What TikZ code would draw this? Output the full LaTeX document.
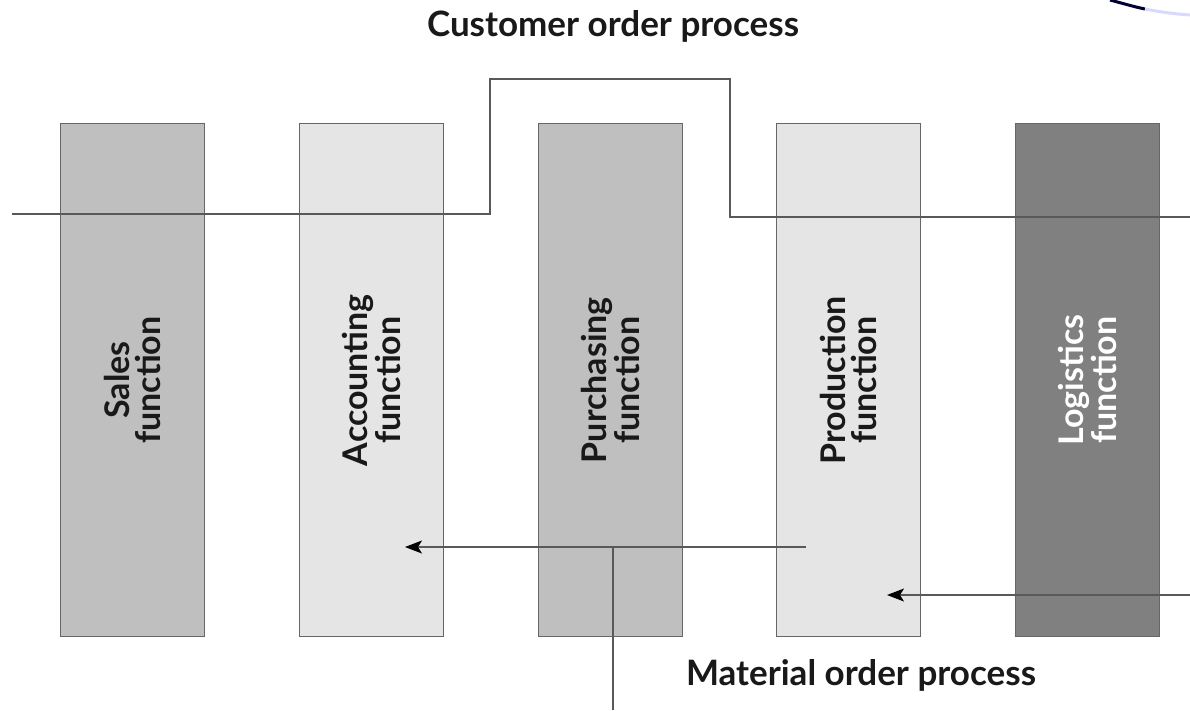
\documentclass[tikz,border=0pt]{standalone}
\usepackage{fontspec}
\setmainfont{Lato}
\usetikzlibrary{arrows.meta}
\begin{document}
\begin{tikzpicture}[x=1pt,y=-1pt,
  func/.style={draw=black!60, line width=1.2pt, minimum width=144pt, minimum height=513pt, inner sep=0pt, anchor=north west},
  lbl/.style={rotate=90, align=center, font=\bfseries\fontsize{34}{31}\selectfont, text=black!90},
  flow/.style={draw=black!65, line width=1.2pt},
  arr/.style={flow, -{Stealth[length=17pt,width=13pt,inset=4pt,black]}},
  title/.style={font=\bfseries\fontsize{35}{40}\selectfont, text=black!90, anchor=base, inner sep=0pt}]
\useasboundingbox (0,0) rectangle (1190,710);
\fill[white] (0,0) rectangle (1190,710);
% top-right fragment
\draw[draw=black!80!blue, line width=3pt] (1110,0) .. controls (1125,4) and (1135,7) .. (1145,9);
\draw[draw=blue!15, line width=3pt] (1145,9) .. controls (1160,12) and (1175,14) .. (1190,15);
% function boxes
\node[func, fill=black!25] (sales) at (60,123) {};
\node[func, fill=black!10] (acc) at (299,123) {};
\node[func, fill=black!25] (pur) at (538,123) {};
\node[func, fill=black!10] (prod) at (776,123) {};
\node[func, fill=black!50] (log) at (1015,123) {};
\node[lbl] at (sales.center) {Sales\\function};
\node[lbl] at (acc.center) {Accounting\\function};
\node[lbl] at (pur.center) {Purchasing\\function};
\node[lbl] at (prod.center) {Production\\function};
\node[lbl, text=white] at (log.center) {Logistics\\function};
% titles
\node[title] (cop) at (613,36) {Customer order process};
\node[title] (mop) at (861,685) {Material order process};
% customer order process line
\coordinate (c0) at (12,214);
\coordinate (c1) at (490,214);
\coordinate (c2) at (490,79);
\coordinate (c3) at (730,79);
\coordinate (c4) at (730,217);
\coordinate (c5) at (1190,217);
\draw[flow] (c0) -- (c1) -- (c2) -- (c3) -- (c4) -- (c5);
% material order process
\coordinate (m0) at (1190,595);
\coordinate (m1) at (887,595);
\draw[arr] (m0) -- (m1);
\coordinate (m2) at (806,547);
\coordinate (m3) at (405,547);
\draw[arr] (m2) -- (m3);
\coordinate (m4) at (613,547);
\coordinate (m5) at (613,710);
\draw[flow] (m4) -- (m5);
\end{tikzpicture}
\end{document}
